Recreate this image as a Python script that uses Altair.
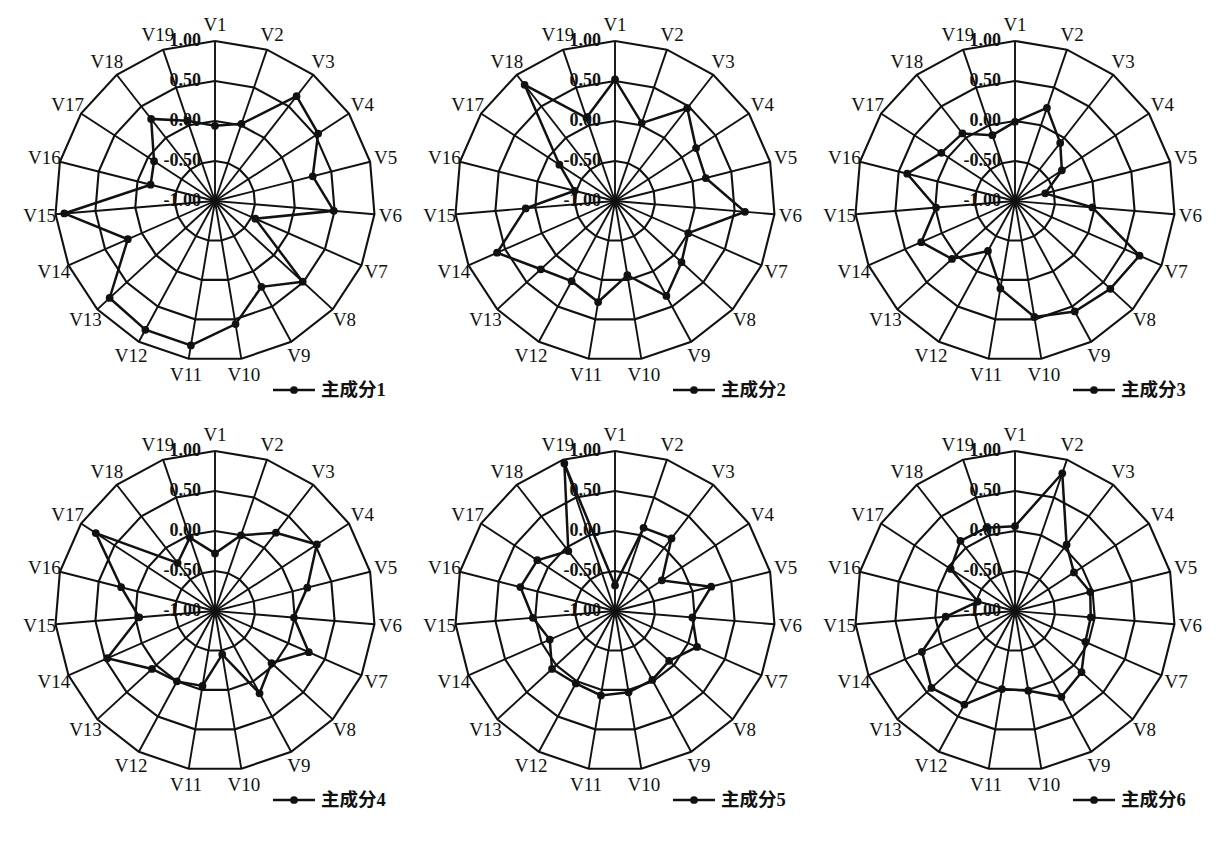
import altair as alt
import pandas as pd

# ---------------- data ----------------
VARIABLES = ["V1", "V2", "V3", "V4", "V5", "V6", "V7", "V8", "V9", "V10",
             "V11", "V12", "V13", "V14", "V15", "V16", "V17", "V18", "V19"]
TICK_VALUES = [-1.0, -0.5, 0.0, 0.5, 1.0]
TICK_LABELS = ["-1.00", "-0.50", "0.00", "0.50", "1.00"]
SERIES_NAMES = ["主成分1", "主成分2", "主成分3", "主成分4", "主成分5", "主成分6"]

PC1 = [-0.06, 0.02, 0.66, 0.54, 0.26, 0.49, -0.45, 0.49, 0.22, 0.56,
       0.83, 0.83, 0.79, 0.19, 0.89, -0.17, -0.09, 0.30, 0.06]
PC2 = [0.52, 0.03, 0.47, 0.21, 0.17, 0.63, 0.00, 0.13, 0.35, -0.06,
       0.28, 0.14, 0.26, 0.61, 0.12, -0.48, -0.17, 0.84, 0.10]
PC3 = [-0.01, 0.23, -0.08, -0.30, -0.61, -0.03, 0.70, 0.62, 0.57, 0.47,
       0.11, -0.29, 0.07, 0.28, -0.01, 0.39, 0.10, 0.07, -0.13]
PC4 = [-0.28, 0.00, 0.24, 0.52, 0.19, -0.01, 0.28, -0.04, 0.17, -0.45,
       -0.05, 0.00, 0.07, 0.47, -0.05, 0.21, 0.78, -0.24, -0.03]
PC5 = [-0.68, 0.10, 0.15, -0.30, 0.24, -0.03, 0.12, -0.08, -0.02, 0.03,
       0.07, 0.03, 0.07, -0.11, 0.03, 0.22, 0.16, -0.05, 0.95]
PC6 = [0.06, 0.82, 0.05, -0.12, -0.03, -0.05, -0.04, 0.13, 0.22, 0.01,
       -0.01, 0.33, 0.42, 0.27, -0.13, -0.52, -0.04, 0.11, 0.10]
SERIES = [PC1, PC2, PC3, PC4, PC5, PC6]

# ---------------- layout / style ----------------
N = len(VARIABLES)
VMIN, VMAX = TICK_VALUES[0], TICK_VALUES[-1]
PANEL_W, PANEL_H = 400, 410
CX, CY = 207, 193          # radar centre inside each panel (px)
RADIUS_PX = 160            # outer ring radius (px)
X_DOMAIN = [-CX / RADIUS_PX, (PANEL_W - CX) / RADIUS_PX]
Y_DOMAIN = [-(PANEL_H - CY) / RADIUS_PX, CY / RADIUS_PX]
LABEL_R = 176 / RADIUS_PX
TICK_DX = -14 / RADIUS_PX
LEG_Y = -189 / RADIUS_PX
LEG_X0, LEG_X1, LEG_XP, LEG_XT = 58 / RADIUS_PX, 100 / RADIUS_PX, 79 / RADIUS_PX, 106 / RADIUS_PX

INK = "#111111"
SERIF = "Liberation Serif"
CJK = "Liberation Serif, Noto Sans CJK SC"

xs = alt.Scale(domain=X_DOMAIN, nice=False, zero=False)
ys = alt.Scale(domain=Y_DOMAIN, nice=False, zero=False)

ANG = f"(2 * PI * datum.idx / {N})"
RAD = f"((datum.value - ({VMIN})) / ({VMAX - VMIN}))"


def X(field):
    return alt.X(field, type="quantitative", scale=xs, axis=None)


def Y(field):
    return alt.Y(field, type="quantitative", scale=ys, axis=None)


rings_df = pd.DataFrame([{"value": t, "idx": i} for t in TICK_VALUES[1:] for i in range(N + 1)])
spokes_df = pd.DataFrame({"idx": list(range(N)), "value": [VMAX] * N})
labels_df = pd.DataFrame({"name": VARIABLES, "idx": list(range(N))})
ticks_df = pd.DataFrame({"value": TICK_VALUES, "label": TICK_LABELS})


def panel(values, name):
    rings = alt.Chart(rings_df).mark_line(color=INK, strokeWidth=2.1).transform_calculate(
        x=f"{RAD} * sin({ANG})", y=f"{RAD} * cos({ANG})"
    ).encode(x=X("x"), y=Y("y"), detail="value:N", order="idx:Q")

    spokes = alt.Chart(spokes_df).mark_rule(color=INK, strokeWidth=1.9).transform_calculate(
        x0="0", y0="0", x=f"{RAD} * sin({ANG})", y=f"{RAD} * cos({ANG})"
    ).encode(x=X("x0"), y=Y("y0"), x2="x:Q", y2="y:Q")

    ticks = alt.Chart(ticks_df).mark_text(
        align="right", baseline="middle", font=SERIF, fontSize=18, fontWeight="bold", color=INK
    ).transform_calculate(x=f"{TICK_DX}", y=f"{RAD}").encode(x=X("x"), y=Y("y"), text="label:N")

    vlabels = alt.Chart(labels_df).mark_text(
        align="center", baseline="middle", font=SERIF, fontSize=19, color=INK
    ).transform_calculate(
        x=f"{LABEL_R} * sin({ANG})", y=f"{LABEL_R} * cos({ANG})"
    ).encode(x=X("x"), y=Y("y"), text="name:N")

    line_df = pd.DataFrame({"idx": list(range(N + 1)), "value": values + values[:1]})
    line = alt.Chart(line_df).mark_line(color=INK, strokeWidth=2.5).transform_calculate(
        x=f"{RAD} * sin({ANG})", y=f"{RAD} * cos({ANG})"
    ).encode(x=X("x"), y=Y("y"), order="idx:Q")

    pts_df = pd.DataFrame({"idx": list(range(N)), "value": values, "var": VARIABLES})
    pts = alt.Chart(pts_df).mark_point(filled=True, color=INK, size=60, opacity=1).transform_calculate(
        x=f"{RAD} * sin({ANG})", y=f"{RAD} * cos({ANG})"
    ).encode(x=X("x"), y=Y("y"))

    leg_df = pd.DataFrame({"name": [name]})
    leg_line = alt.Chart(leg_df).mark_rule(color=INK, strokeWidth=2.5).transform_calculate(
        x0=f"{LEG_X0}", x1=f"{LEG_X1}", y0=f"{LEG_Y}"
    ).encode(x=X("x0"), x2="x1:Q", y=Y("y0"))
    leg_pt = alt.Chart(leg_df).mark_point(filled=True, color=INK, size=60, opacity=1).transform_calculate(
        x0=f"{LEG_XP}", y0=f"{LEG_Y}"
    ).encode(x=X("x0"), y=Y("y0"))
    leg_txt = alt.Chart(leg_df).mark_text(
        align="left", baseline="middle", font=CJK, fontSize=18.5, fontWeight="bold", color=INK
    ).transform_calculate(x0=f"{LEG_XT}", y0=f"{LEG_Y}").encode(x=X("x0"), y=Y("y0"), text="name:N")

    return alt.layer(rings, spokes, ticks, vlabels, line, pts, leg_line, leg_pt, leg_txt).properties(
        width=PANEL_W, height=PANEL_H
    )


panels = [panel(v, n) for v, n in zip(SERIES, SERIES_NAMES)]
chart = alt.concat(*panels, columns=3, spacing=0, bounds="flush").properties(
    padding=0, background="white"
).configure_view(stroke=None)

chart.save("out.html", embed_options={"renderer": "svg", "actions": False})
